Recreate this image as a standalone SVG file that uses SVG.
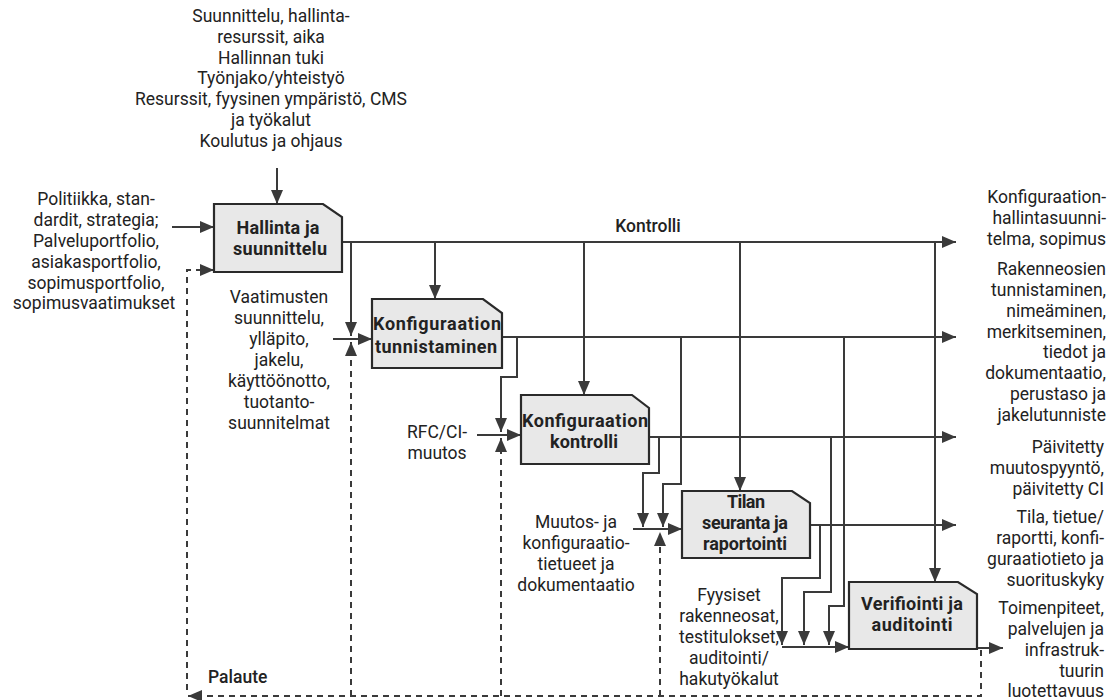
<svg xmlns="http://www.w3.org/2000/svg" width="1114" height="700" viewBox="0 0 1114 700">
<style>
text{font-family:Roboto,"Open Sans","Liberation Sans",sans-serif;fill:#222}
.t{font-size:17.5px}
.c{text-anchor:middle}
.r{text-anchor:end}
.b{font-size:18px;font-weight:700;text-anchor:middle}
.lbl{font-size:17.5px;font-weight:500}
.box{fill:#e8e8e8;stroke:#2a2a2a;stroke-width:2.2}
.ln{fill:none;stroke:#3a3a3a;stroke-width:2}
.dash{fill:none;stroke:#3a3a3a;stroke-width:2;stroke-dasharray:6 5}
</style>
<defs>
<marker id="ah" markerUnits="userSpaceOnUse" markerWidth="14" markerHeight="12" viewBox="0 0 14 12" refX="14" refY="6" orient="auto">
<path d="M0,0 L14,6 L0,12 z" fill="#3a3a3a"/>
</marker>
</defs>

<g id="connectors">
<path class="ln" d="M277,168 V204" marker-end="url(#ah)"/>
<path class="ln" d="M172,227 H214" marker-end="url(#ah)"/>
<path class="ln" d="M333,339 H372" marker-end="url(#ah)"/>
<path class="ln" d="M477,435 H521" marker-end="url(#ah)"/>
<path class="ln" d="M633,529 H682" marker-end="url(#ah)"/>
<path class="ln" d="M782,647 H849" marker-end="url(#ah)"/>
<path class="ln" d="M342,242 H956" marker-end="url(#ah)"/>
<path class="ln" d="M351,242 V336" marker-end="url(#ah)"/>
<path class="ln" d="M435,242 V299" marker-end="url(#ah)"/>
<path class="ln" d="M584,242 V395" marker-end="url(#ah)"/>
<path class="ln" d="M740,242 V491" marker-end="url(#ah)"/>
<path class="ln" d="M935,242 V582" marker-end="url(#ah)"/>
<path class="ln" d="M502,337 H956" marker-end="url(#ah)"/>
<path class="ln" d="M517,337 V377 H501 V432" marker-end="url(#ah)"/>
<path class="ln" d="M681,337 V484 H663 V527" marker-end="url(#ah)"/>
<path class="ln" d="M844,337 V606 H829 V645" marker-end="url(#ah)"/>
<path class="ln" d="M649,437 H956" marker-end="url(#ah)"/>
<path class="ln" d="M659,437 V473 H643 V527" marker-end="url(#ah)"/>
<path class="ln" d="M831,437 V592 H804 V645" marker-end="url(#ah)"/>
<path class="ln" d="M810,525 H956" marker-end="url(#ah)"/>
<path class="ln" d="M820,525 V578 H782 V645" marker-end="url(#ah)"/>
<path class="ln" d="M977,648 H1003" marker-end="url(#ah)"/>
<path class="dash" d="M981,650 V696 H188" marker-end="url(#ah)"/>
<path class="dash" d="M187,690 V270 H214" marker-end="url(#ah)"/>
<path class="dash" d="M351,696 V342" marker-end="url(#ah)"/>
<path class="dash" d="M501,696 V438" marker-end="url(#ah)"/>
<path class="dash" d="M660,696 V532" marker-end="url(#ah)"/>
</g>

<g id="n1">
<polygon class="box" points="214,204 323,204 342,217 342,272 214,272"/>
<text class="b" x="278" y="234" textLength="83" lengthAdjust="spacing">Hallinta ja</text>
<text class="b" x="280" y="255" textLength="94" lengthAdjust="spacing">suunnittelu</text>
</g>
<g id="n2">
<polygon class="box" points="372,299 483,299 502,313 502,368 372,368"/>
<text class="b" x="437" y="330" textLength="128" lengthAdjust="spacing">Konfiguraation</text>
<text class="b" x="436" y="353" textLength="122" lengthAdjust="spacing">tunnistaminen</text>
</g>
<g id="n3">
<polygon class="box" points="521,395 632,395 649,408 649,464 521,464"/>
<text class="b" x="585" y="427" textLength="126" lengthAdjust="spacing">Konfiguraation</text>
<text class="b" x="584" y="448" textLength="68" lengthAdjust="spacing">kontrolli</text>
</g>
<g id="n4">
<polygon class="box" points="682,491 792,491 810,503 810,558 682,558"/>
<text class="b" x="746" y="508" textLength="38" lengthAdjust="spacing">Tilan</text>
<text class="b" x="745" y="529" textLength="86" lengthAdjust="spacing">seuranta ja</text>
<text class="b" x="745" y="550" textLength="84" lengthAdjust="spacing">raportointi</text>
</g>
<g id="n5">
<polygon class="box" points="849,582 958,582 977,594 977,649 849,649"/>
<text class="b" x="912" y="610" textLength="102" lengthAdjust="spacing">Verifiointi ja</text>
<text class="b" x="912" y="631" textLength="81" lengthAdjust="spacing">auditointi</text>
</g>

<g id="labels">
<text class="t c"><tspan x="271" y="22">Suunnittelu, hallinta-</tspan><tspan x="271" y="43">resurssit, aika</tspan><tspan x="271" y="64">Hallinnan tuki</tspan><tspan x="271" y="84">Työnjako/yhteistyö</tspan><tspan x="271" y="105">Resurssit, fyysinen ympäristö, CMS</tspan><tspan x="271" y="126">ja työkalut</tspan><tspan x="271" y="147">Koulutus ja ohjaus</tspan></text>
<text class="t c"><tspan x="96" y="205">Politiikka, stan-</tspan><tspan x="96" y="226">dardit, strategia;</tspan><tspan x="96" y="247">Palveluportfolio,</tspan><tspan x="96" y="268">asiakasportfolio,</tspan><tspan x="96" y="289">sopimusportfolio,</tspan><tspan x="94" y="309">sopimusvaatimukset</tspan></text>
<text class="t c"><tspan x="279" y="303">Vaatimusten</tspan><tspan x="279" y="324">suunnittelu,</tspan><tspan x="279" y="345">ylläpito,</tspan><tspan x="279" y="366">jakelu,</tspan><tspan x="279" y="387">käyttöönotto,</tspan><tspan x="279" y="408">tuotanto-</tspan><tspan x="279" y="429">suunnitelmat</tspan></text>
<text class="t c"><tspan x="437" y="438">RFC/CI-</tspan><tspan x="437" y="459">muutos</tspan></text>
<text class="t c"><tspan x="576" y="528">Muutos- ja</tspan><tspan x="576" y="549">konfiguraatio-</tspan><tspan x="576" y="570">tietueet ja</tspan><tspan x="576" y="591">dokumentaatio</tspan></text>
<text class="t c"><tspan x="729" y="601">Fyysiset</tspan><tspan x="729" y="622">rakenneosat,</tspan><tspan x="729" y="643">testitulokset,</tspan><tspan x="729" y="664">auditointi/</tspan><tspan x="729" y="685">hakutyökalut</tspan></text>
<text class="lbl" x="648" y="232" text-anchor="middle">Kontrolli</text>
<text class="lbl" x="208" y="683">Palaute</text>
<text class="t r"><tspan x="1106" y="203">Konfiguraation-</tspan><tspan x="1106" y="224">hallintasuunni-</tspan><tspan x="1106" y="245">telma, sopimus</tspan><tspan x="1106" y="275">Rakenneosien</tspan><tspan x="1106" y="296">tunnistaminen,</tspan><tspan x="1106" y="317">nimeäminen,</tspan><tspan x="1106" y="338">merkitseminen,</tspan><tspan x="1106" y="358">tiedot ja</tspan><tspan x="1106" y="379">dokumentaatio,</tspan><tspan x="1106" y="400">perustaso ja</tspan><tspan x="1106" y="421">jakelutunniste</tspan><tspan x="1104" y="453">Päivitetty</tspan><tspan x="1104" y="474">muutospyyntö,</tspan><tspan x="1104" y="495">päivitetty CI</tspan><tspan x="1104" y="523">Tila, tietue/</tspan><tspan x="1104" y="544">raportti, konfi-</tspan><tspan x="1104" y="565">guraatiotieto ja</tspan><tspan x="1104" y="586">suorituskyky</tspan><tspan x="1104" y="614">Toimenpiteet,</tspan><tspan x="1104" y="635">palvelujen ja</tspan><tspan x="1104" y="656">infrastruk-</tspan><tspan x="1104" y="677">tuurin</tspan><tspan x="1104" y="697">luotettavuus</tspan></text>
</g>
</svg>
